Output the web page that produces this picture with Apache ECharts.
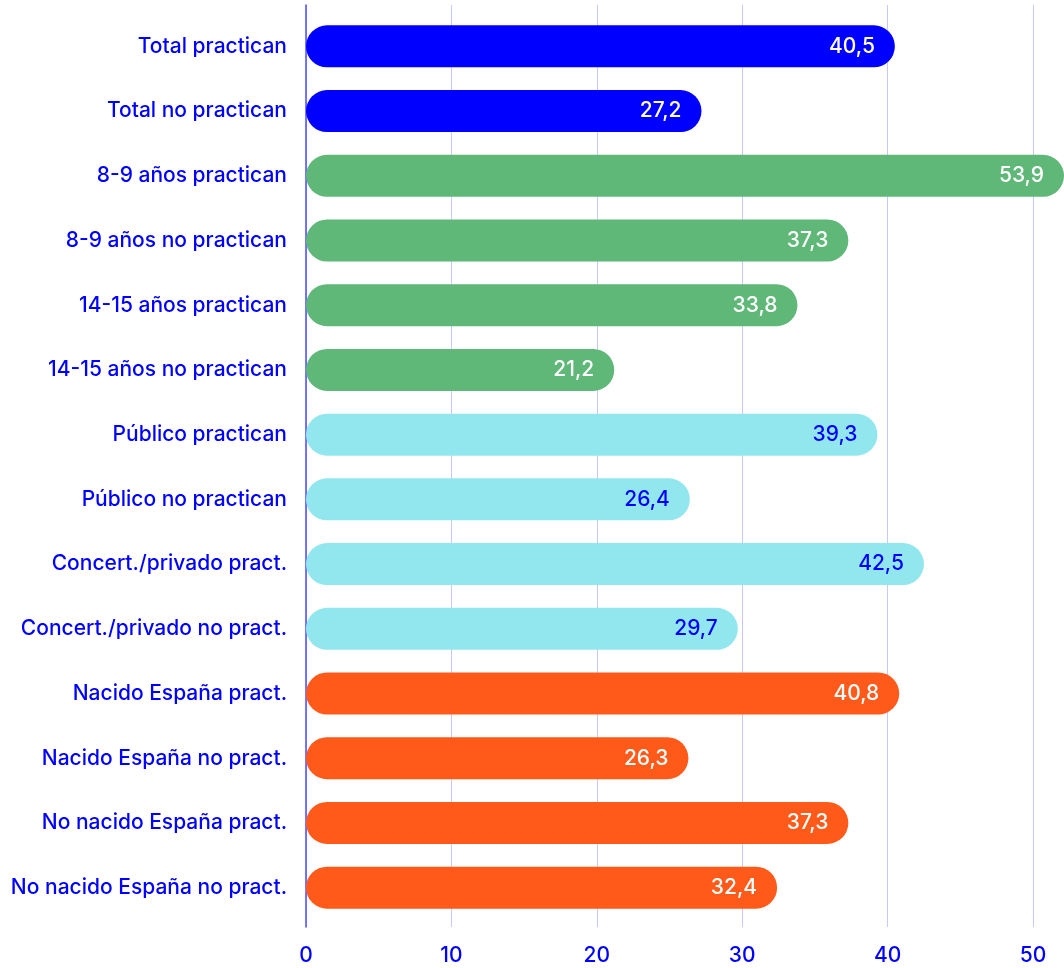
<!DOCTYPE html>
<html>
<head>
<meta charset="utf-8">
<script src="https://cdn.jsdelivr.net/npm/echarts@6/dist/echarts.min.js"></script>
<style>
  html, body { margin: 0; padding: 0; background: #ffffff; }
  #chart { width: 1064px; height: 968px; }
</style>
</head>
<body>
<div id="chart"></div>
<script>
const categories = [
  'Total practican', 'Total no practican',
  '8-9 años practican', '8-9 años no practican',
  '14-15 años practican', '14-15 años no practican',
  'Público practican', 'Público no practican',
  'Concert./privado pract.', 'Concert./privado no pract.',
  'Nacido España pract.', 'Nacido España no pract.',
  'No nacido España pract.', 'No nacido España no pract.'
];
const values = [40.5, 27.2, 53.9, 37.3, 33.8, 21.2, 39.3, 26.4, 42.5, 29.7, 40.8, 26.3, 37.3, 32.4];
const groups = ['total', 'total', 'edad', 'edad', 'edad', 'edad', 'centro', 'centro', 'centro', 'centro', 'origen', 'origen', 'origen', 'origen'];
const xMin = 0;
const xMax = 50;
const xInterval = 10;

const groupColors = { total: '#0000ff', edad: '#5fb878', centro: '#92e7ef', origen: '#ff5a1a' };
const labelColors = { total: '#ffffff', edad: '#ffffff', centro: '#0000ff', origen: '#ffffff' };

const W = 1064, H = 968;
const plotLeft = 306, plotRight = 1033;
// bars' grid reaches the canvas edge; same px/unit as the tick axis
const barMax = xMax * (W - plotLeft) / (plotRight - plotLeft);

const FONT = 'Inter';
const FS = 21;
const FW = 500;
const BLUE = '#0000ff';

const chart = echarts.init(document.getElementById('chart'), null, { renderer: 'canvas' });

const data = values.map((v, i) => ({
  value: v,
  itemStyle: { color: groupColors[groups[i]] },
  label: { color: labelColors[groups[i]] }
}));

chart.setOption({
  animation: false,
  backgroundColor: '#ffffff',
  grid: [
    { left: plotLeft, right: 0, top: 14, bottom: 48, containLabel: false },
    { left: plotLeft, right: W - plotRight, top: 5, bottom: 41, containLabel: false }
  ],
  xAxis: [
    { gridIndex: 0, type: 'value', min: xMin, max: barMax, show: false },
    {
      gridIndex: 1, type: 'value', min: xMin, max: xMax, interval: xInterval,
      axisLine: { show: false }, axisTick: { show: false },
      splitLine: { show: true, lineStyle: { color: '#c8c8ff', width: 1 } },
      axisLabel: { color: BLUE, fontFamily: FONT, fontSize: FS, fontWeight: FW, margin: 18 }
    }
  ],
  yAxis: [
    {
      gridIndex: 0, type: 'category', data: categories, inverse: true,
      axisLine: { show: false }, axisTick: { show: false }, splitLine: { show: false },
      axisLabel: { color: BLUE, fontFamily: FONT, fontSize: FS, fontWeight: FW, margin: 19 }
    },
    {
      gridIndex: 1, type: 'value', min: 0, max: 1,
      axisLine: { show: true, lineStyle: { color: '#4d4dff', width: 1.5 } },
      axisTick: { show: false }, axisLabel: { show: false }, splitLine: { show: false }
    }
  ],
  series: [{
    type: 'bar',
    xAxisIndex: 0, yAxisIndex: 0,
    data: data,
    barWidth: 42,
    clip: true,
    itemStyle: { borderRadius: 21 },
    label: {
      show: true, position: 'insideRight', distance: 20,
      fontFamily: FONT, fontSize: FS, fontWeight: FW,
      formatter: p => String(p.value).replace('.', ',')
    }
  }]
});
</script>
</body>
</html>
